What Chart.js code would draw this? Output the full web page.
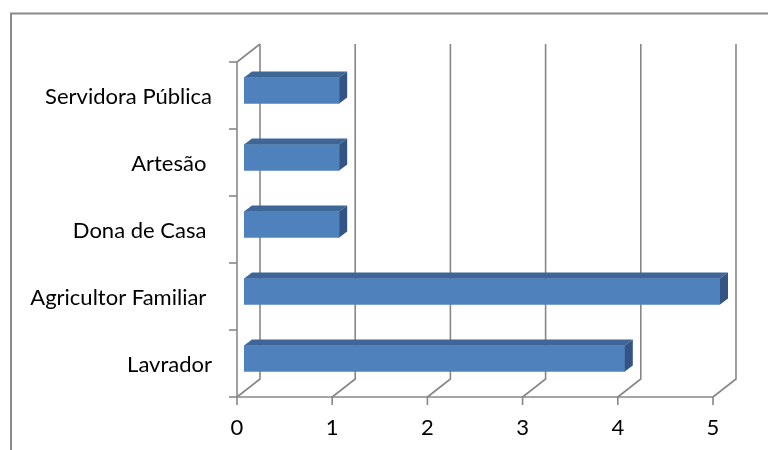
<!DOCTYPE html>
<html>
<head>
<meta charset="utf-8">
<script src="https://cdn.jsdelivr.net/npm/chart.js@4/dist/chart.umd.min.js"></script>
<style>
html,body{margin:0;padding:0;background:#fff;}
#wrap{width:768px;height:450px;position:relative;}
</style>
</head>
<body>
<div id="wrap"><canvas id="c" width="768" height="450"></canvas></div>
<script>
const categories = ["Servidora Pública", "Artesão ", "Dona de Casa ", "Agricultor Familiar ", "Lavrador"];
const values = [1, 1, 1, 5, 4];
const xTicks = [0, 1, 2, 3, 4, 5];

const FONT_FAMILY = "Lato, 'Open Sans', sans-serif";
// fit font size so the longest label is close to the reference width
const mctx = document.createElement('canvas').getContext('2d');
mctx.font = "100px " + FONT_FAMILY;
const fontSize = Math.round(100 * 168 / mctx.measureText("Servidora Pública").width * 2) / 2;

const FRONT = {dx: -7, dy: 5};   // front axis plane relative to bar plane
const BACK = {dx: 16, dy: -13};  // back wall relative to bar plane
const DEPTH = {dx: 8, dy: -6};   // bar depth
const GRID = '#878787';

const threeD = {
  id: 'threeD',
  beforeDraw(chart) {
    const ctx = chart.ctx;
    ctx.save();
    ctx.strokeStyle = '#8a8a8a';
    ctx.lineWidth = 2;
    ctx.beginPath();
    ctx.moveTo(11, 450);
    ctx.lineTo(11, 13.5);
    ctx.lineTo(768, 13.5);
    ctx.stroke();
    ctx.restore();
  },
  beforeDatasetsDraw(chart) {
    const ctx = chart.ctx;
    const xs = chart.scales.x;
    const top = chart.chartArea.top, bottom = chart.chartArea.bottom;
    ctx.save();
    ctx.strokeStyle = GRID;
    ctx.lineWidth = 1.6;
    ctx.lineCap = 'butt';
    xTicks.forEach(v => {
      const px = xs.getPixelForValue(v);
      ctx.beginPath();
      ctx.moveTo(px + BACK.dx, top + BACK.dy);
      ctx.lineTo(px + BACK.dx, bottom + BACK.dy);
      ctx.lineTo(px + FRONT.dx, bottom + FRONT.dy);
      ctx.lineTo(px + FRONT.dx, bottom + FRONT.dy + 8);
      ctx.stroke();
    });
    const x0 = xs.getPixelForValue(0);
    const x5 = xs.getPixelForValue(5);
    ctx.beginPath();
    ctx.moveTo(x0 + FRONT.dx, top + FRONT.dy);
    ctx.lineTo(x0 + BACK.dx, top + BACK.dy);
    ctx.stroke();
    ctx.beginPath();
    ctx.moveTo(x0 + FRONT.dx, top + FRONT.dy);
    ctx.lineTo(x0 + FRONT.dx, bottom + FRONT.dy);
    ctx.stroke();
    ctx.beginPath();
    ctx.moveTo(x0 + FRONT.dx, bottom + FRONT.dy);
    ctx.lineTo(x5 + FRONT.dx, bottom + FRONT.dy);
    ctx.stroke();
    const n = categories.length;
    for (let i = 0; i <= n; i++) {
      const y = top + (bottom - top) * i / n + FRONT.dy;
      ctx.beginPath();
      ctx.moveTo(x0 + FRONT.dx - 8, y);
      ctx.lineTo(x0 + FRONT.dx, y);
      ctx.stroke();
    }
    ctx.restore();
  },
  afterDatasetsDraw(chart) {
    const ctx = chart.ctx;
    const meta = chart.getDatasetMeta(0);
    ctx.save();
    meta.data.forEach(bar => {
      const p = bar.getProps(['x', 'y', 'base', 'height'], true);
      const l = Math.min(p.base, p.x), r = Math.max(p.base, p.x);
      const t = p.y - p.height / 2, b = p.y + p.height / 2;
      ctx.fillStyle = '#3e6697';
      ctx.beginPath();
      ctx.moveTo(l, t);
      ctx.lineTo(r, t);
      ctx.lineTo(r + DEPTH.dx, t + DEPTH.dy);
      ctx.lineTo(l + DEPTH.dx, t + DEPTH.dy);
      ctx.closePath();
      ctx.fill();
      ctx.fillStyle = '#345583';
      ctx.beginPath();
      ctx.moveTo(r, t);
      ctx.lineTo(r + DEPTH.dx, t + DEPTH.dy);
      ctx.lineTo(r + DEPTH.dx, b + DEPTH.dy);
      ctx.lineTo(r, b);
      ctx.closePath();
      ctx.fill();
    });
    ctx.restore();
  }
};

new Chart(document.getElementById('c'), {
  type: 'bar',
  data: {
    labels: categories,
    datasets: [{
      data: values,
      backgroundColor: '#4f81bd',
      borderWidth: 0,
      barThickness: 26
    }]
  },
  options: {
    indexAxis: 'y',
    responsive: false,
    animation: false,
    devicePixelRatio: 1,
    layout: {padding: {left: 0, right: 48, top: 57, bottom: 0}},
    plugins: {legend: {display: false}, tooltip: {enabled: false}},
    scales: {
      x: {
        min: 0, max: 5,
        grid: {display: false, drawTicks: false},
        border: {display: false},
        ticks: {
          stepSize: 1,
          labelOffset: -7,
          padding: 23,
          color: '#000',
          font: {family: FONT_FAMILY, size: fontSize}
        },
        afterFit(s) { s.height = 58; }
      },
      y: {
        grid: {display: false, drawTicks: false},
        border: {display: false},
        ticks: {
          labelOffset: 6,
          padding: 32,
          color: '#000',
          font: {family: FONT_FAMILY, size: fontSize}
        },
        afterFit(s) { s.width = 244; }
      }
    }
  },
  plugins: [threeD]
});
</script>
</body>
</html>
